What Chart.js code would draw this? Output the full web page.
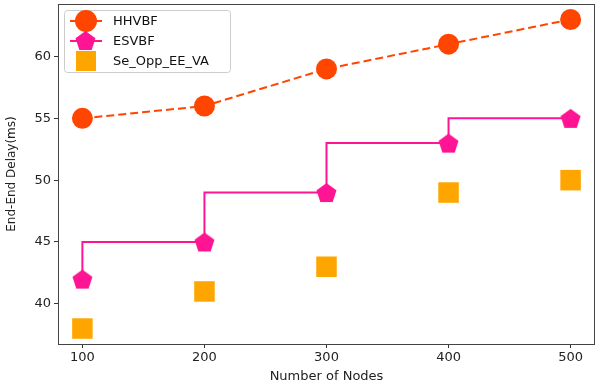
<!DOCTYPE html>
<html>
<head>
<meta charset="utf-8">
<script src="https://cdn.jsdelivr.net/npm/chart.js@4.4.1/dist/chart.umd.min.js"></script>
<style>
	html, body { margin: 0; padding: 0; background: #fff; }
	#wrap { width: 596px; height: 384px; }
</style>
</head>
<body>
<div id="wrap"><canvas id="delayChart" width="596" height="384"></canvas></div>
<script>
// data
const nodes = [100, 200, 300, 400, 500];
const hhvbf = [55, 56, 59, 61, 63];
const esvbf = [42, 45, 49, 53, 55];
const seOpp = [38, 41, 43, 49, 50];
const yTicks = [40, 45, 50, 55, 60];

const FONT = "'DejaVu Sans', sans-serif";

function pentagon(size, color) {
	const c = document.createElement('canvas');
	c.width = size; c.height = size;
	const g = c.getContext('2d');
	const r = size / 2;
	g.fillStyle = color;
	g.beginPath();
	for (let i = 0; i < 5; i++) {
		const a = -Math.PI / 2 + i * 2 * Math.PI / 5;
		const px = r + r * Math.cos(a), py = r + 1 + r * Math.sin(a);
		if (i === 0) g.moveTo(px, py); else g.lineTo(px, py);
	}
	g.closePath();
	g.fill();
	return c;
}

const pent = pentagon(21, '#FF1493');
const toXY = (ys) => ys.map((y, i) => ({ x: nodes[i], y: y }));

// frame + legend inside the plot, matplotlib style
const framePlugin = {
	id: 'frame',
	afterDraw(chart) {
		const { ctx, chartArea: a } = chart;
		ctx.save();
		ctx.strokeStyle = '#444';
		ctx.lineWidth = 1;
		ctx.strokeRect(a.left + 0.5, a.top + 0.5, a.right - a.left - 1, a.bottom - a.top);

		// legend
		const bx = a.left + 6, by = a.top + 6, bw = 166, bh = 62;
		ctx.fillStyle = 'rgba(255,255,255,0.8)';
		ctx.strokeStyle = '#ccc';
		ctx.beginPath();
		ctx.roundRect(bx + 0.5, by + 0.5, bw, bh, 3);
		ctx.fill();
		ctx.stroke();

		const mx = bx + 22;
		const rows = chart.data.datasets.map((ds, i) => ({ ds, y: by + 11 + i * 20 }));
		rows.forEach(({ ds, y }, i) => {
			if (ds.showLine) {
				ctx.strokeStyle = ds.borderColor;
				ctx.lineWidth = ds.borderWidth;
				ctx.setLineDash(ds.borderDash || []);
				ctx.beginPath();
				ctx.moveTo(mx - 16, y);
				ctx.lineTo(mx + 16, y);
				ctx.stroke();
				ctx.setLineDash([]);
			}
			if (i === 0) {
				ctx.fillStyle = ds.pointBackgroundColor;
				ctx.beginPath();
				ctx.arc(mx, y, 11, 0, Math.PI * 2);
				ctx.fill();
			} else if (i === 1) {
				ctx.drawImage(pent, mx - 11, y - 11);
			} else {
				ctx.fillStyle = ds.pointBackgroundColor;
				ctx.fillRect(mx - 10, y - 10, 20, 20);
			}
			ctx.fillStyle = '#111';
			ctx.font = '13px ' + FONT;
			ctx.textBaseline = 'middle';
			ctx.fillText(ds.label, bx + 49, y + 1);
		});
		ctx.restore();
	}
};

new Chart(document.getElementById('delayChart'), {
	type: 'scatter',
	data: {
		datasets: [
			{
				label: 'HHVBF',
				data: toXY(hhvbf),
				showLine: true,
				borderColor: '#FF4500',
				borderWidth: 2,
				borderDash: [8, 4],
				pointStyle: 'circle',
				pointRadius: 10.5,
				pointHoverRadius: 10.5,
				pointBackgroundColor: '#FF4500',
				pointBorderWidth: 0,
				order: 1
			},
			{
				label: 'ESVBF',
				data: toXY(esvbf),
				showLine: true,
				stepped: 'after',
				borderColor: '#FF1493',
				borderWidth: 2,
				pointStyle: pent,
				pointBackgroundColor: '#FF1493',
				order: 2
			},
			{
				label: 'Se_Opp_EE_VA',
				data: toXY(seOpp),
				showLine: false,
				pointStyle: 'rect',
				pointRadius: 14.5,
				pointHoverRadius: 14.5,
				pointBackgroundColor: '#FFA500',
				pointBorderWidth: 0,
				borderColor: '#FFA500',
				order: 3
			}
		]
	},
	options: {
		responsive: false,
		animation: false,
		layout: { autoPadding: false, padding: { top: 4, right: 1, left: 0, bottom: 0 } },
		plugins: {
			legend: { display: false },
			tooltip: { enabled: false }
		},
		scales: {
			x: {
				type: 'linear',
				min: 80,
				max: 520,
				afterBuildTicks: (s) => { s.ticks = nodes.map(v => ({ value: v })); },
				afterFit: (s) => { s.height = 40; s.paddingLeft = 0; s.paddingRight = 0; },
				grid: { drawOnChartArea: false, tickLength: 4, color: '#333' },
				border: { display: false },
				ticks: { color: '#222', font: { family: FONT, size: 13 }, padding: 2, maxRotation: 0 },
				title: { display: true, text: 'Number of Nodes', color: '#222', font: { family: FONT, size: 13 }, padding: { top: 0, bottom: 0 } }
			},
			y: {
				min: 36.75,
				max: 64.25,
				afterBuildTicks: (s) => { s.ticks = yTicks.map(v => ({ value: v })); },
				afterFit: (s) => { s.width = 58; s.paddingTop = 0; s.paddingBottom = 0; },
				grid: { drawOnChartArea: false, tickLength: 4, color: '#333' },
				border: { display: false },
				ticks: { color: '#222', font: { family: FONT, size: 13 }, padding: 3 },
				title: { display: true, text: 'End-End Delay(ms)', color: '#222', font: { family: FONT, size: 12 }, padding: { top: 5, bottom: 0 } }
			}
		}
	},
	plugins: [framePlugin]
});
</script>
</body>
</html>
